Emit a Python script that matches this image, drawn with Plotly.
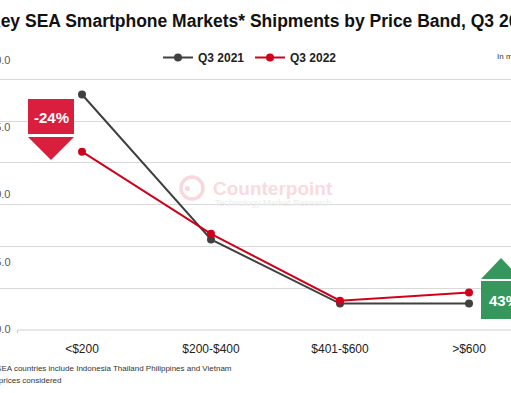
import plotly.graph_objects as go

# ---- data ----
price_bands = ["<$200", "$200-$400", "$401-$600", ">$600"]
q3_2021 = [16.9, 6.5, 1.9, 1.9]
q3_2022 = [12.8, 6.9, 2.1, 2.7]
grid_vals = [3, 6, 9, 12, 15, 18]
label_vals = [0, 5, 10, 15, 20]
label_text = ["0.0", "5.0", "10.0", "15.0", "20.0"]

W, H = 511, 393
ML, MR, MT, MB = 0, 0, 40, 53
PH = H - MT - MB
GRID_PX = 41.8 / 3      # pixels per data unit (gridline scale)
LABEL_PX = 67.25 / 5    # pixels per unit on the printed label scale


def xp(px):
    return px / W


def yp(py):
    return (H - MB - py) / PH


# printed labels sit on their own (slightly different) scale in the source image
label_pos = [(1 + v * LABEL_PX) / GRID_PX for v in label_vals]

FONT = "Liberation Sans, Arial, sans-serif"
GRAY = "#404040"
RED = "#d0021b"

fig = go.Figure()
fig.add_trace(go.Scatter(x=price_bands, y=q3_2021, name="<b>Q3 2021</b>", mode="lines+markers",
                         line=dict(color=GRAY, width=2), marker=dict(size=8, color=GRAY)))
fig.add_trace(go.Scatter(x=price_bands, y=q3_2022, name="<b>Q3 2022</b>", mode="lines+markers",
                         line=dict(color=RED, width=2), marker=dict(size=8, color=RED)))

shapes = []
annotations = []

# x-axis baseline (starts at category boundary)
shapes.append(dict(type="line", xref="x", yref="y", x0=-0.5, x1=3.4, y0=0, y1=0,
                   line=dict(color="#d0d0d0", width=1.2)))
shapes.append(dict(type="line", xref="x", yref="paper", x0=-0.5, x1=-0.5, y0=yp(330), y1=yp(333),
                   line=dict(color="#d0d0d0", width=1.2)))

# watermark
shapes.append(dict(type="circle", xref="paper", yref="paper", x0=xp(181), x1=xp(203), y0=yp(199), y1=yp(177),
                   line=dict(color="#f8d8dd", width=3.5)))
shapes.append(dict(type="circle", xref="paper", yref="paper", x0=xp(185), x1=xp(190), y0=yp(191), y1=yp(186),
                   fillcolor="#f8d8dd", line=dict(width=0)))
annotations.append(dict(text="<b>Counterpoint</b>", xref="paper", yref="paper", x=xp(211), y=yp(188),
                        xanchor="left", yanchor="middle", showarrow=False,
                        font=dict(family=FONT, size=19, color="#f9dade")))
annotations.append(dict(text="Technology Market Research", xref="paper", yref="paper", x=xp(213), y=yp(203),
                        xanchor="left", yanchor="middle", showarrow=False,
                        font=dict(family=FONT, size=9, color="#ebebeb")))

# red callout -24%
CRED = "#d91e3e"
shapes.append(dict(type="rect", xref="paper", yref="paper", x0=xp(28), x1=xp(74), y0=yp(134), y1=yp(99),
                   fillcolor=CRED, line=dict(width=0)))
shapes.append(dict(type="path", xref="paper", yref="paper",
                   path=f"M{xp(28)},{yp(137)} L{xp(74)},{yp(137)} L{xp(51)},{yp(160)} Z",
                   fillcolor=CRED, line=dict(width=0)))
annotations.append(dict(text="<b>-24%</b>", xref="paper", yref="paper", x=xp(51), y=yp(117),
                        xanchor="center", yanchor="middle", showarrow=False,
                        font=dict(family=FONT, size=15, color="white")))

# green callout 43%
CGRN = "#36975c"
shapes.append(dict(type="rect", xref="paper", yref="paper", x0=xp(481), x1=xp(523), y0=yp(319), y1=yp(281),
                   fillcolor=CGRN, line=dict(width=0)))
shapes.append(dict(type="path", xref="paper", yref="paper",
                   path=f"M{xp(481)},{yp(279)} L{xp(521)},{yp(279)} L{xp(501)},{yp(258)} Z",
                   fillcolor=CGRN, line=dict(width=0)))
annotations.append(dict(text="<b>43%</b>", xref="paper", yref="paper", x=xp(487), y=yp(300),
                        xanchor="left", yanchor="middle", showarrow=False,
                        font=dict(family=FONT, size=15, color="white")))

# title (cropped)
annotations.append(dict(text="<b>Key SEA Smartphone Markets* Shipments by Price Band, Q3 2021 vs Q3 2022</b>",
                        xref="paper", yref="paper", x=xp(-14), y=yp(21), xanchor="left", yanchor="middle",
                        showarrow=False, font=dict(family=FONT, size=17.5, color="#111111")))
# unit note
annotations.append(dict(text="In million units", xref="paper", yref="paper", x=xp(495), y=yp(57),
                        xanchor="left", yanchor="middle", showarrow=False,
                        font=dict(family=FONT, size=8, color="#333333")))
# footnotes
annotations.append(dict(text="*SEA countries include Indonesia Thailand Philippines and Vietnam",
                        xref="paper", yref="paper", x=xp(-9), y=yp(368), xanchor="left", yanchor="middle",
                        showarrow=False, font=dict(family=FONT, size=8, color="#333333")))
annotations.append(dict(text="**Wholesale prices considered",
                        xref="paper", yref="paper", x=xp(-49), y=yp(380), xanchor="left", yanchor="middle",
                        showarrow=False, font=dict(family=FONT, size=8, color="#333333")))

fig.update_layout(
    width=W, height=H,
    margin=dict(l=ML, r=MR, t=MT, b=MB, autoexpand=False),
    paper_bgcolor="white", plot_bgcolor="white",
    font=dict(family=FONT, color="#333333"),
    showlegend=True,
    legend=dict(orientation="h", x=xp(158), y=yp(43), xanchor="left", yanchor="top",
                font=dict(family=FONT, size=12, color="#222222"), bgcolor="rgba(0,0,0,0)",
                entrywidth=47, entrywidthmode="pixels", itemwidth=30),
    xaxis=dict(type="category", range=[-82 / 129, -82 / 129 + W / 129], showgrid=False, zeroline=False,
               showline=False, ticks="", tickfont=dict(family=FONT, size=12, color="#222222")),
    yaxis=dict(anchor="free", position=xp(10.5), side="left",
               range=[-10 / GRID_PX, 290 / GRID_PX],
               tickvals=label_pos, ticktext=label_text,
               showgrid=False, zeroline=False, showline=False, ticks="",
               tickfont=dict(family=FONT, size=11, color="#595959"),
               minor=dict(tickvals=grid_vals, showgrid=True, gridcolor="#d9d9d9", gridwidth=1, ticks="")),
    shapes=shapes, annotations=annotations,
)

fig.write_html("out.html", config={"displayModeBar": False},
               post_script="document.body.style.margin='0';document.body.style.overflow='hidden';")
